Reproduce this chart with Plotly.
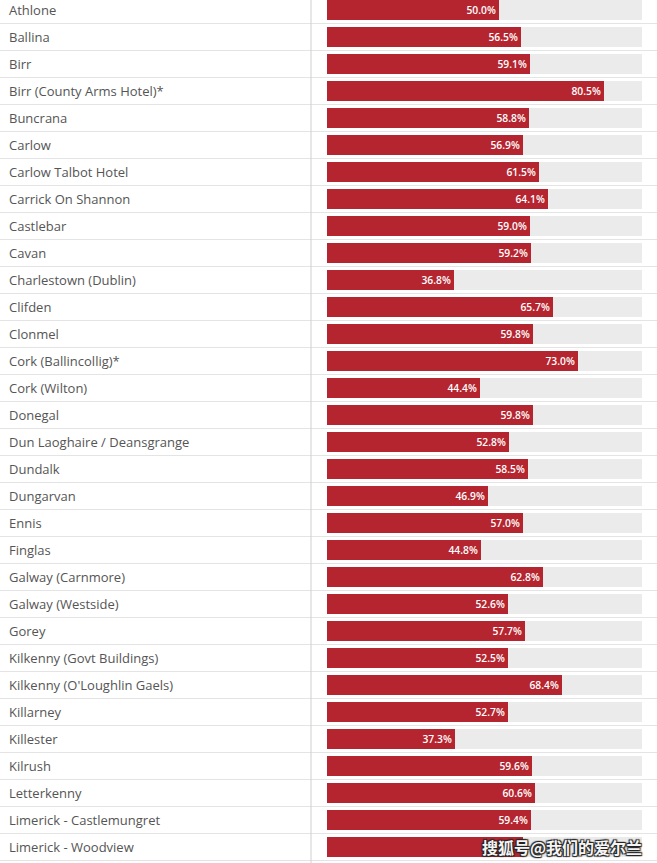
import plotly.graph_objects as go

centres = [
    "Athlone", "Ballina", "Birr", "Birr (County Arms Hotel)*", "Buncrana", "Carlow",
    "Carlow Talbot Hotel", "Carrick On Shannon", "Castlebar", "Cavan",
    "Charlestown (Dublin)", "Clifden", "Clonmel", "Cork (Ballincollig)*", "Cork (Wilton)",
    "Donegal", "Dun Laoghaire / Deansgrange", "Dundalk", "Dungarvan", "Ennis", "Finglas",
    "Galway (Carnmore)", "Galway (Westside)", "Gorey", "Kilkenny (Govt Buildings)",
    "Kilkenny (O'Loughlin Gaels)", "Killarney", "Killester", "Kilrush", "Letterkenny",
    "Limerick - Castlemungret", "Limerick - Woodview",
]
pass_rates = [
    50.0, 56.5, 59.1, 80.5, 58.8, 56.9, 61.5, 64.1, 59.0, 59.2, 36.8, 65.7, 59.8, 73.0,
    44.4, 59.8, 52.8, 58.5, 46.9, 57.0, 44.8, 62.8, 52.6, 57.7, 52.5, 68.4, 52.7, 37.3,
    59.6, 60.6, 59.4, 57.0,
]
track_value = 91.5
watermark = "搜狐号@我们的爱尔兰"

n = len(centres)
idx = list(range(n))
value_text = [f"{v:.1f}%" for v in pass_rates]
value_text[-1] = ""  # hidden under watermark in the reference

W, H = 657, 863
RED = "#b5252f"
GREY = "#ebebeb"

fig = go.Figure()
fig.add_trace(go.Bar(
    y=idx, x=[track_value] * n, orientation="h", width=0.74,
    marker=dict(color=GREY, line=dict(width=0)), hoverinfo="skip", showlegend=False,
))
fig.add_trace(go.Bar(
    y=idx, x=pass_rates, orientation="h", width=0.74,
    marker=dict(color=RED, line=dict(width=0)),
    text=value_text, textposition="inside", insidetextanchor="end",
    textfont=dict(color="white", size=12.5, family="Open Sans", weight=600),
    textangle=0, showlegend=False, cliponaxis=False,
))

# pixel mapping: x px = 327 + 3.44*v ; y px = 10 + 27*i
x0 = -327 / 3.44
x1 = (W - 327) / 3.44
y_top = -10 / 27
y_bot = (H - 10) / 27

shapes = []
for i in range(n):
    shapes.append(dict(type="line", xref="paper", yref="y", x0=0, x1=1, y0=i + 0.5, y1=i + 0.5,
                       line=dict(color="#e4e4e4", width=1), layer="below"))
shapes.append(dict(type="line", xref="paper", yref="paper", x0=311 / W, x1=311 / W, y0=0, y1=1,
                   line=dict(color="#cfcfcf", width=1), layer="below"))

annotations = []
for i, name in enumerate(centres):
    annotations.append(dict(x=7 / W, xref="paper", y=i, yref="y", text=name, showarrow=False,
                            xanchor="left", yanchor="middle",
                            font=dict(family="Open Sans", size=13, color="#555555")))
annotations.append(dict(x=644 / W, xref="paper", y=n - 1, yref="y", text=watermark, showarrow=False,
                        xanchor="right", yanchor="middle",
                        font=dict(family="Noto Sans CJK SC", size=16, color="#f4f4f4", weight="bold",
                                  shadow="1px 1px 1px #222, -1px -1px 1px #222, 1px -1px 1px #222, -1px 1px 1px #222")))

fig.update_layout(
    width=W, height=H, margin=dict(l=0, r=0, t=0, b=0),
    paper_bgcolor="white", plot_bgcolor="white",
    barmode="overlay", bargap=0,
    xaxis=dict(range=[x0, x1], visible=False, fixedrange=True),
    yaxis=dict(range=[y_bot, y_top], visible=False, fixedrange=True),
    shapes=shapes, annotations=annotations,
    uniformtext=dict(minsize=8, mode="show"),
)

fig.write_html("out.html", config={"displayModeBar": False})
